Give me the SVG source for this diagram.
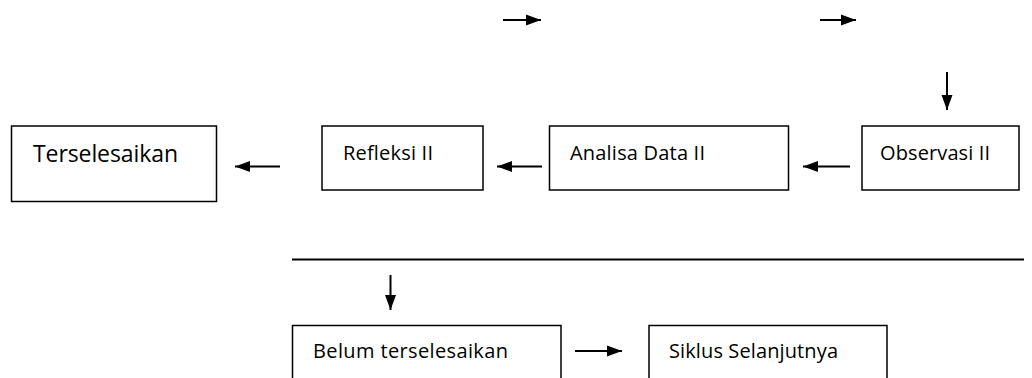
<svg xmlns="http://www.w3.org/2000/svg" width="1032" height="378" viewBox="0 0 1032 378">
<style>
.box{fill:#fff;stroke:#000;stroke-width:1.5}
.t{font-family:"Open Sans","Liberation Sans",Arial,sans-serif;font-size:20px;fill:#000}
.big{font-size:23px}
.c{stroke:#000;stroke-width:2;fill:none}
</style>
<defs>
<marker id="ah" markerUnits="userSpaceOnUse" markerWidth="16" markerHeight="12" refX="15" refY="6" orient="auto">
<path d="M0,0.5 L15,6 L0,11.5 Z" fill="#000"/>
</marker>
</defs>
<rect width="1032" height="378" fill="#fff"/>
<g id="connectors">
<line class="c" x1="503" y1="20" x2="541" y2="20" marker-end="url(#ah)"/>
<line class="c" x1="820" y1="20" x2="856" y2="20" marker-end="url(#ah)"/>
<line class="c" x1="947" y1="72" x2="947" y2="110" marker-end="url(#ah)"/>
<line class="c" x1="850" y1="166.5" x2="803" y2="166.5" marker-end="url(#ah)"/>
<line class="c" x1="542" y1="166.5" x2="497" y2="166.5" marker-end="url(#ah)"/>
<line class="c" x1="280" y1="166.5" x2="235" y2="166.5" marker-end="url(#ah)"/>
<line class="c" x1="292" y1="259.5" x2="1024" y2="259.5"/>
<line class="c" x1="390.5" y1="275" x2="390.5" y2="310" marker-end="url(#ah)"/>
<line class="c" x1="575" y1="351" x2="622" y2="351" marker-end="url(#ah)"/>
</g>
<g id="terselesaikan">
<rect class="box" x="11.5" y="126" width="205" height="75.5"/>
<text class="t big" x="33" y="162" textLength="145">Terselesaikan</text>
</g>
<g id="refleksi">
<rect class="box" x="322" y="126" width="161" height="64"/>
<text class="t" x="343" y="159.5" textLength="90">Refleksi II</text>
</g>
<g id="analisa">
<rect class="box" x="549.5" y="126" width="239" height="64"/>
<text class="t" x="570" y="159.5" textLength="135">Analisa Data II</text>
</g>
<g id="observasi">
<rect class="box" x="862" y="126" width="157" height="64"/>
<text class="t" x="880" y="159.5" textLength="110">Observasi II</text>
</g>
<g id="belum">
<rect class="box" x="292.5" y="325.5" width="268.5" height="60"/>
<text class="t" x="313" y="358" textLength="195">Belum terselesaikan</text>
</g>
<g id="siklus">
<rect class="box" x="649" y="325.5" width="238" height="60"/>
<text class="t" x="669" y="358" textLength="169">Siklus Selanjutnya</text>
</g>
</svg>
